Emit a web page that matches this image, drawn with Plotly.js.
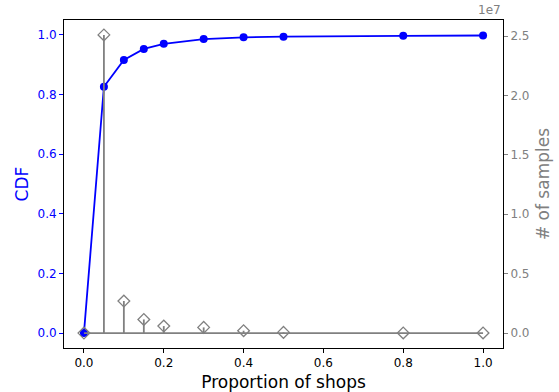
<!DOCTYPE html>
<html>
<head>
<meta charset="utf-8">
<script src="https://cdn.plot.ly/plotly-3.0.1.min.js"></script>
<style>html,body{margin:0;padding:0;background:#fff;}#chart{width:559px;height:392px;}</style>
</head>
<body>
<div id="chart"></div>
<script>
// Data
const proportions = [0.0, 0.05, 0.1, 0.15, 0.2, 0.3, 0.4, 0.5, 0.8, 1.0];
const cdfValues   = [0.0, 0.826, 0.916, 0.953, 0.970, 0.986, 0.992, 0.994, 0.997, 0.998];
const sampleCounts = [0, 25100000, 2700000, 1150000, 590000, 480000, 200000, 60000, 10000, 10000];

const xTickVals = [0, 0.2, 0.4, 0.6, 0.8, 1.0];
const xTickText = ["0.0", "0.2", "0.4", "0.6", "0.8", "1.0"];
const cdfTickVals = [0, 0.2, 0.4, 0.6, 0.8, 1.0];
const cdfTickText = ["0.0", "0.2", "0.4", "0.6", "0.8", "1.0"];
const sampleTickVals = [0, 5e6, 1e7, 1.5e7, 2e7, 2.5e7];
const sampleTickText = ["0.0", "0.5", "1.0", "1.5", "2.0", "2.5"];

const BLUE = "#0000ff";
const GRAY = "#808080";
const FONT = "DejaVu Sans, sans-serif";

// stem lines built from data
const stemX = [], stemY = [];
proportions.forEach((p, i) => { stemX.push(p, p, null); stemY.push(0, sampleCounts[i], null); });

const maxS = Math.max(...sampleCounts);
const y2Range = [-0.05 * maxS, 1.05 * maxS];

const traces = [
  {
    x: proportions, y: cdfValues, type: "scatter", mode: "lines+markers",
    line: {color: BLUE, width: 1.8},
    marker: {color: BLUE, size: 8},
    xaxis: "x", yaxis: "y", hoverinfo: "skip", showlegend: false
  },
  {
    x: stemX, y: stemY, type: "scatter", mode: "lines",
    line: {color: GRAY, width: 1.8},
    xaxis: "x", yaxis: "y2", hoverinfo: "skip", showlegend: false
  },
  {
    x: [proportions[0], proportions[proportions.length - 1]], y: [0, 0],
    type: "scatter", mode: "lines",
    line: {color: GRAY, width: 1.8},
    xaxis: "x", yaxis: "y2", hoverinfo: "skip", showlegend: false
  },
  {
    x: proportions, y: sampleCounts, type: "scatter", mode: "markers",
    marker: {symbol: "diamond-open", size: 9, color: GRAY, line: {width: 1.3, color: GRAY}},
    xaxis: "x", yaxis: "y2", hoverinfo: "skip", showlegend: false
  }
];

const layout = {
  width: 559, height: 392,
  margin: {l: 64, r: 56, t: 20, b: 44},
  paper_bgcolor: "#fff", plot_bgcolor: "#fff",
  font: {family: FONT, size: 12, color: "#000"},
  showlegend: false,
  xaxis: {
    range: [-0.05, 1.05],
    tickvals: xTickVals, ticktext: xTickText,
    ticks: "outside", ticklen: 4, tickwidth: 1, tickcolor: "#000",
    showline: true, linecolor: "#000", linewidth: 1, mirror: true,
    showgrid: false, zeroline: false,
    tickfont: {family: FONT, size: 12, color: "#000"},
    title: {text: "Proportion of shops", font: {family: FONT, size: 17, color: "#000"}, standoff: 6}
  },
  yaxis: {
    range: [-0.05, 1.05],
    tickvals: cdfTickVals, ticktext: cdfTickText,
    ticks: "outside", ticklen: 4, tickwidth: 1, tickcolor: BLUE,
    showline: true, linecolor: "#000", linewidth: 1,
    showgrid: false, zeroline: false,
    tickfont: {family: FONT, size: 12, color: BLUE},
    title: {text: "CDF", font: {family: FONT, size: 17, color: BLUE}, standoff: 4}
  },
  yaxis2: {
    overlaying: "y", side: "right",
    range: y2Range,
    tickvals: sampleTickVals, ticktext: sampleTickText,
    ticks: "outside", ticklen: 4, tickwidth: 1, tickcolor: GRAY,
    showline: true, linecolor: "#000", linewidth: 1,
    showgrid: false, zeroline: false,
    tickfont: {family: FONT, size: 12, color: GRAY},
    title: {text: "# of samples", font: {family: FONT, size: 17, color: GRAY}, standoff: 8}
  },
  annotations: [
    {text: "1e7", xref: "paper", yref: "paper", x: 1, y: 1, xanchor: "right", yanchor: "bottom",
     yshift: 1, showarrow: false, font: {family: FONT, size: 12, color: GRAY}}
  ]
};

Plotly.newPlot("chart", traces, layout, {displayModeBar: false, staticPlot: true});
</script>
</body>
</html>
